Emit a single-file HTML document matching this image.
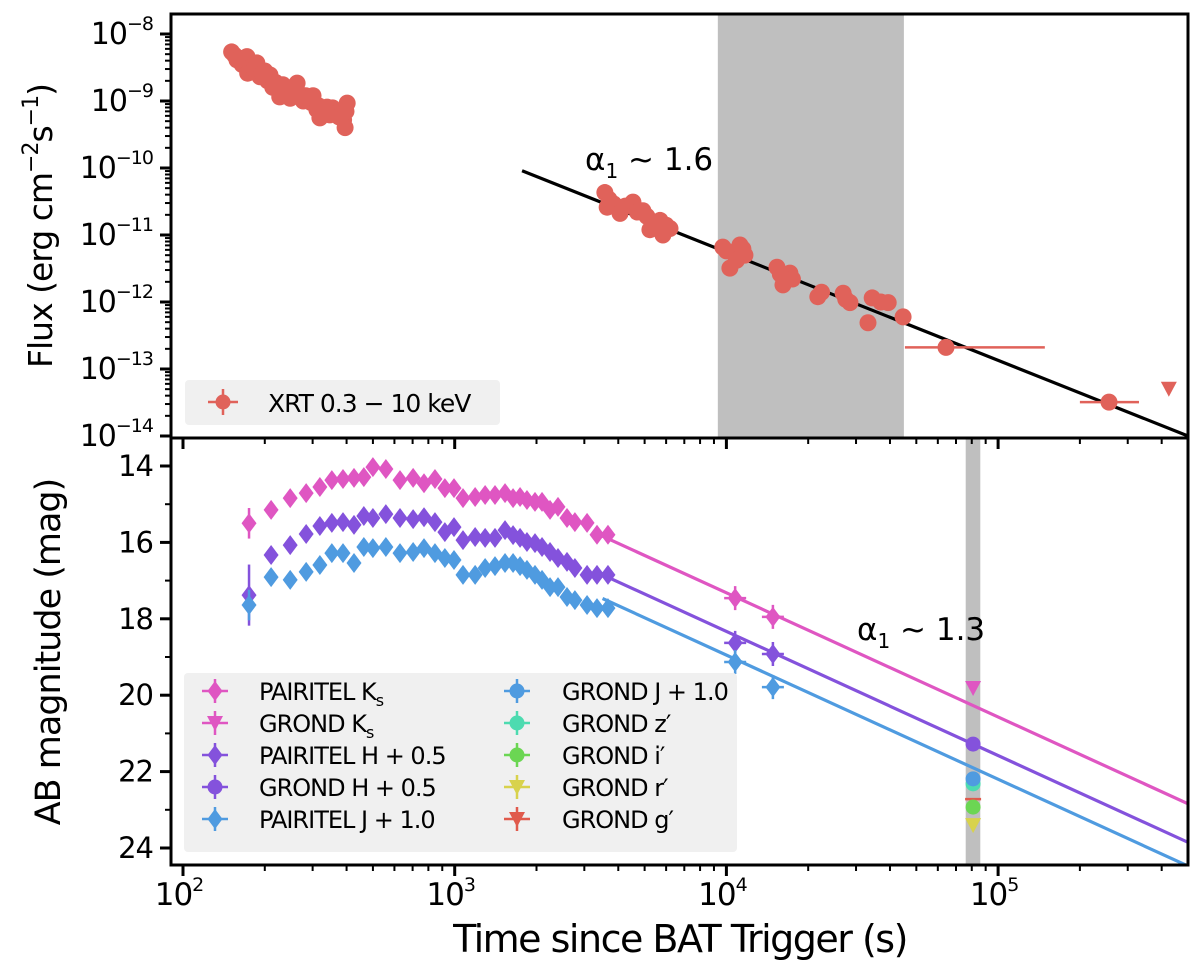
<!DOCTYPE html>
<html><head><meta charset="utf-8">
<style>
html,body{margin:0;padding:0;background:#fff;}
svg{display:block;font-family:"DejaVu Sans","Liberation Sans",sans-serif;}
</style></head>
<body>
<svg id="chart" width="1200" height="966" viewBox="0 0 1200 966" xmlns="http://www.w3.org/2000/svg">
<g id="topPanel"></g>
<g id="botPanel"></g>
<g id="axesG"></g>
</svg>
<script>
// ---------- DATA ----------
const xrtT = [151,155,158,162,165,168,172,173,178,183,187,192,196,200,205,209,214,219,227,233,237,240,244,248,255,263,270,277,283,290,296,301,306,311,315,319,325,332,339,347,355,362,369,375,380,385,390,395,398,402,
  3570,3640,3700,3850,4060,4250,4530,4700,4930,5100,5230,5450,5700,5840,6000,6200,
  9700,10000,10300,10600,10900,11220,11500,11700,15350,15800,16150,17130,17500,21700,22400,26900,27500,28500,33200,34400,37000,39400,44700,64300,256000];
const xrtF = [5.4e-9,4.8e-9,4.1e-9,4.3e-9,3.5e-9,3.8e-9,4.6e-9,2.6e-9,3.2e-9,3.0e-9,3.7e-9,2.3e-9,2.6e-9,2.8e-9,2.0e-9,2.45e-9,1.6e-9,1.9e-9,1.15e-9,1.75e-9,1.5e-9,1.6e-9,1.3e-9,1.1e-9,1.35e-9,1.85e-9,1.25e-9,1.0e-9,1.2e-9,1.1e-9,9.5e-10,1.2e-9,9.0e-10,7.4e-10,8.5e-10,5.6e-10,7.5e-10,6.8e-10,8.1e-10,6.2e-10,7.9e-10,6.5e-10,6.6e-10,5.8e-10,6.0e-10,5.5e-10,5.2e-10,4.0e-10,7.0e-10,9.3e-10,
  4.3e-11,2.6e-11,3.4e-11,2.9e-11,2.1e-11,2.7e-11,3.1e-11,2.2e-11,2.3e-11,1.9e-11,1.2e-11,1.5e-11,1.65e-11,1.0e-11,1.4e-11,1.25e-11,
  6.6e-12,5.8e-12,3.2e-12,5.4e-12,4.2e-12,7.1e-12,6.2e-12,5.0e-12,3.3e-12,2.6e-12,1.8e-12,2.7e-12,2.2e-12,1.2e-12,1.4e-12,1.35e-12,1.1e-12,9.8e-13,4.9e-13,1.15e-12,1.0e-12,9.8e-13,6.0e-13,2.1e-13,3.2e-14];
const xrtTlo = [45400,200000];
const xrtThi = [148600,330000];
const xrtLimT = [425000];
const xrtLimF = [4.9e-14];
const fitXrtT = [1770,500000];
const fitXrtF = [9.1e-11,1.0e-14];
const bandTop = [9300,45000];
const bandBot = [76000,86000];

const pT = [175,211,248,284,319,353,388,426,463,500,558,629,703,771,846,920,994,1073,1189,1294,1407,1532,1640,1740,1845,1975,2096,2243,2400,2590,2770,3070,3340,3665];
const ksMag = [15.50,15.15,14.84,14.71,14.55,14.37,14.34,14.31,14.29,14.03,14.08,14.37,14.31,14.45,14.34,14.58,14.58,14.84,14.81,14.76,14.76,14.71,14.84,14.81,14.89,14.94,14.94,15.15,15.07,15.36,15.47,15.49,15.80,15.80];
const hMag  = [17.38,16.33,16.07,15.78,15.57,15.49,15.47,15.54,15.31,15.36,15.26,15.36,15.39,15.34,15.47,15.73,15.60,15.94,15.86,15.88,15.88,15.68,15.81,15.88,15.99,16.02,16.12,16.25,16.41,16.51,16.67,16.85,16.85,16.85];
const jMag  = [17.64,16.91,16.98,16.77,16.59,16.28,16.28,16.54,16.12,16.15,16.12,16.28,16.25,16.15,16.28,16.41,16.46,16.85,16.85,16.67,16.62,16.54,16.54,16.62,16.72,16.85,16.98,17.17,17.17,17.43,17.51,17.64,17.72,17.72];
const firstErr = [0.4,0.8,0.4];
const lateT = [10770,14830];
const ksLate = [17.46,17.95];
const hLate = [18.63,18.92];
const jLate = [19.13,19.79];
const gT = 80900;
const grondKs = 19.81, grondH = 21.28, grondJ = 22.19, grondZ = 22.32, grondI = 22.93, grondR = 23.40, grondG = 22.72;
const fitStartT = 3500, fitEndT = 500000;
const fitMag1e4 = [17.32,18.33,18.95];
const alphaOpt = 1.3;

const xTickLabels = ["2","3","4","5"];
const fTickExps = ["−8","−9","−10","−11","−12","−13","−14"];
const magTicks = [14,16,18,20,22,24];

// ---------- SCALES ----------
const X0=171, X1=1188;
const xS = t => 183 + (Math.log10(t)-2)*271.7;
const yF = f => 34 + (-8-Math.log10(f))*67;
const yM = m => 466 + (m-14)*38.2;
const NS="http://www.w3.org/2000/svg";
function mk(tag, attrs, parent){const e=document.createElementNS(NS,tag);for(const k in attrs)e.setAttribute(k,attrs[k]);parent.appendChild(e);return e;}
const topG=document.getElementById('topPanel'), botG=document.getElementById('botPanel'), axG=document.getElementById('axesG');

const C={xrt:"#e0625a",ks:"#df56c2",h:"#8452dc",j:"#4f9be0",z:"#4ddbb0",i:"#6bd653",r:"#d8d24c",g:"#e05a4c"};

const defsG=mk('defs',{},document.getElementById('chart'));
const cp1=mk('clipPath',{id:'c1'},defsG); mk('rect',{x:X0,y:14,width:X1-X0,height:424},cp1);
const cp2=mk('clipPath',{id:'c2'},defsG); mk('rect',{x:X0,y:438,width:X1-X0,height:427},cp2);
topG.setAttribute('clip-path','url(#c1)');
botG.setAttribute('clip-path','url(#c2)');

let bandEl=mk('rect',{x:xS(bandTop[0]),y:14,width:xS(bandTop[1])-xS(bandTop[0]),height:424,fill:"#bfbfbf"},topG);


bandEl=mk('rect',{x:xS(bandBot[0]),y:438,width:xS(bandBot[1])-xS(bandBot[0]),height:427,fill:"#bfbfbf"},botG);



const fitL=mk('line',{x1:xS(fitXrtT[0]),y1:yF(fitXrtF[0]),x2:xS(fitXrtT[1]),y2:yF(fitXrtF[1]),stroke:"#000","stroke-width":3.2},topG);



for(let k=0;k<xrtT.length;k++){
  const c=mk('circle',{cx:xS(xrtT[k]),cy:yF(xrtF[k]),r:8.5,fill:C.xrt},topG);
  
  
}
for(let k=0;k<2;k++){
  const idx=xrtT.length-2+k;
  const e=mk('line',{x1:xS(xrtTlo[k]),x2:xS(xrtThi[k]),y1:yF(xrtF[idx]),y2:yF(xrtF[idx]),stroke:C.xrt,"stroke-width":2.5},topG);
  
  
}
{const tx0=xS(xrtLimT[0]),ty0=yF(xrtLimF[0]);
 const p=mk('polygon',{points:`${tx0-8},${ty0-8} ${tx0+8},${ty0-8} ${tx0},${ty0+7}`,fill:C.xrt},topG);
 
 }

const fitCols=[C.ks,C.h,C.j];
for(let s=0;s<3;s++){
  const m=t=>fitMag1e4[s]+2.5*alphaOpt*Math.log10(t/1e4);
  const f=mk('line',{x1:xS(fitStartT),y1:yM(m(fitStartT)),x2:xS(fitEndT),y2:yM(m(fitEndT)),stroke:fitCols[s],"stroke-width":3.2},botG);
  
  
}
function diamond(cx,cy,col,parent,name){
  const p=mk('polygon',{points:`${cx},${cy-10} ${cx+7.5},${cy} ${cx},${cy+10} ${cx-7.5},${cy}`,fill:col},parent);
  
  
  return p;
}
const sets=[[ksMag,C.ks,'pairitel-ks-point'],[hMag,C.h,'pairitel-h-point'],[jMag,C.j,'pairitel-j-point']];
sets.forEach((st,s)=>{
  const arr=st[0];
  const eb=mk('line',{x1:xS(pT[0]),x2:xS(pT[0]),y1:yM(arr[0]-firstErr[s]),y2:yM(arr[0]+firstErr[s]),stroke:st[1],"stroke-width":2.5},botG);
  
  
  for(let k=0;k<pT.length;k++) diamond(xS(pT[k]),yM(arr[k]),st[1],botG,st[2]);
});
[[ksLate,C.ks],[hLate,C.h],[jLate,C.j]].forEach(st=>{
  for(let k=0;k<lateT.length;k++){
    const cx=xS(lateT[k]),cy=yM(st[0][k]);
    const e=mk('path',{d:`M${cx-11},${cy}H${cx+11}M${cx},${cy-12}V${cy+12}`,stroke:st[1],"stroke-width":2.5},botG);
    
    
    diamond(cx,cy,st[1],botG,'late-pairitel-point');
  }
});
const gx=xS(gT);
function tri(cx,cy,col,name,parent){
  const p=mk('polygon',{points:`${cx-8},${cy-7} ${cx+8},${cy-7} ${cx},${cy+8}`,fill:col},parent);
  
  
}
function circ(cx,cy,col,name,parent){
  const c=mk('circle',{cx:cx,cy:cy,r:7.5,fill:col},parent);
  
  
}
tri(gx,yM(grondKs),C.ks,'grond-ks-limit',botG);
circ(gx,yM(grondH),C.h,'grond-h-point',botG);
circ(gx,yM(grondZ),C.z,'grond-z-point',botG);
circ(gx,yM(grondJ),C.j,'grond-j-point',botG);
{const gl=mk('line',{x1:gx-8,x2:gx+8,y1:yM(grondG),y2:yM(grondG),stroke:C.g,"stroke-width":2.5},botG);
 
 }
circ(gx,yM(grondI),C.i,'grond-i-point',botG);
tri(gx,yM(grondR),C.r,'grond-r-limit',botG);

// ---------- AXES ----------
function ln(x1,y1,x2,y2,w,name){const e=mk('line',{x1,y1,x2,y2,stroke:"#000","stroke-width":w},axG);return e;}
function tx(px,py,str,size,anchor,name,extra){const e=mk('text',Object.assign({x:px,y:py,"font-size":size,"text-anchor":anchor,fill:"#000"},extra||{}),axG);e.innerHTML=str;return e;}
const fr1=mk('rect',{x:X0,y:14,width:X1-X0,height:424,fill:"none",stroke:"#000","stroke-width":3},axG);


const fr2=mk('rect',{x:X0,y:438,width:X1-X0,height:427,fill:"none",stroke:"#000","stroke-width":3},axG);



for(let d=1;d<=5;d++){
  for(let mm=1;mm<=9;mm++){
    const t=mm*Math.pow(10,d); const px=xS(t);
    if(px<X0||px>X1) continue;
    const len=mm===1?11:6;
    ln(px,438,px,438+len,mm===1?3:2,'x-tick');
    ln(px,865,px,865+len,mm===1?3:2,'x-tick');
  }
}
xTickLabels.forEach(e=>{
  const px=xS(Math.pow(10,+e));
  tx(px-4,905,`10<tspan dy="-14" font-size="19">${e}</tspan>`,31,"middle",'x-tick-label',{"letter-spacing":"-1"});
});
fTickExps.forEach((e,k)=>{
  const py=34+k*67;
  ln(X0-11,py,X0,py,3,'flux-tick');
  tx(X0-18,py+10,`10<tspan dy="-14" font-size="19">${e}</tspan>`,30,"end",'flux-tick-label',{"letter-spacing":"-1"});
  if(k<6) for(let mm=2;mm<=9;mm++){const pyy=py+67*(1-Math.log10(mm));ln(X0-6,pyy,X0,pyy,2,'flux-minor-tick');}
});
magTicks.forEach(mv=>{
  const py=yM(mv);
  ln(X0-11,py,X0,py,3,'mag-tick');
  tx(X0-18,py+10,String(mv),29,"end",'mag-tick-label',{"letter-spacing":"-1"});
});
for(let mv=15;mv<=23;mv+=2){ ln(X0-6,yM(mv),X0,yM(mv),2,'mag-minor-tick');}

tx(680,952,"Time since BAT Trigger (s)",38,"middle",'x-axis-title',{"letter-spacing":"-1.5"});
tx(0,0,`Flux (erg cm<tspan dy="-14" font-size="22">−2</tspan><tspan dy="14">s</tspan><tspan dy="-14" font-size="22">−1</tspan><tspan dy="14">)</tspan>`,33,"middle",'flux-axis-title',{transform:"translate(52,226) rotate(-90)","letter-spacing":"-1"});
tx(0,0,"AB magnitude (mag)",35,"middle",'mag-axis-title',{transform:"translate(60,652) rotate(-90)","letter-spacing":"-1"});
tx(585,170,`α<tspan dy="8" font-size="20">1</tspan><tspan dy="-8"> ~ 1.6</tspan>`,31,"start",'xrt-slope-annotation');
tx(857,640,`α<tspan dy="8" font-size="20">1</tspan><tspan dy="-8"> ~ 1.3</tspan>`,31,"start",'optical-slope-annotation');

const lg1=mk('rect',{x:185,y:380,width:315,height:45,rx:4,fill:"#f0f0f0"},axG);


ln(208,402,238,402,2.5,'legend-xrt-errorbar').setAttribute('stroke',C.xrt);
ln(223,389,223,415,2.5,'legend-xrt-errorbar-v').setAttribute('stroke',C.xrt);
circ(223,402,C.xrt,'legend-xrt-marker',axG);
tx(268,412,"XRT 0.3 − 10 keV",25,"start",'legend-xrt-label',{"letter-spacing":"-1"});

const lg2=mk('rect',{x:184,y:673,width:553,height:179,rx:4,fill:"#f0f0f0"},axG);


const legNames=["PAIRITEL K<tspan dy='6' font-size='16'>s</tspan>","GROND K<tspan dy='6' font-size='16'>s</tspan>","PAIRITEL H + 0.5","GROND H + 0.5","PAIRITEL J + 1.0",
 "GROND J + 1.0","GROND z′","GROND i′","GROND r′","GROND g′"];
const legCols=[C.ks,C.ks,C.h,C.h,C.j,C.j,C.z,C.i,C.r,C.g];
const legShapes=["d","t","d","c","d","c","c","c","t","t"];
legNames.forEach((nm,k)=>{
  const col=k<5?0:1, row=k%5;
  const mx=col?517:215, my=691+row*32;
  const e=mk('path',{d:`M${mx-13},${my}H${mx+13}M${mx},${my-12}V${my+12}`,stroke:legCols[k],"stroke-width":2.5},axG);
  
  
  if(legShapes[k]==="d") diamond(mx,my,legCols[k],axG,'legend-marker');
  else if(legShapes[k]==="t") tri(mx,my,legCols[k],'legend-marker',axG);
  else circ(mx,my,legCols[k],'legend-marker',axG);
  tx(col?562:259,my+9,nm,24,"start",'legend-label',{"letter-spacing":"-1"});
});
</script>
</body></html>
